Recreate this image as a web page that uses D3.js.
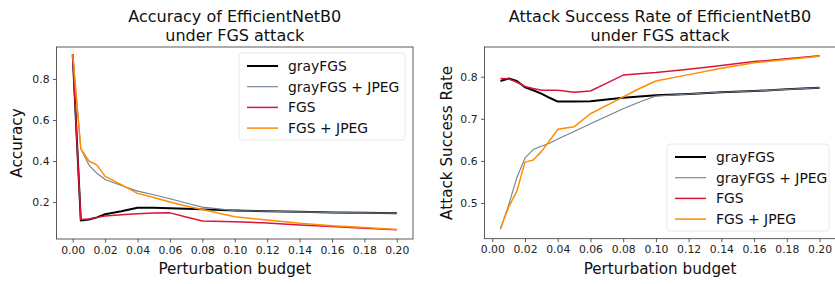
<!DOCTYPE html>
<html>
<head>
<meta charset="utf-8">
<script src="https://cdn.jsdelivr.net/npm/d3@7"></script>
<style>
  body { margin: 0; background: #fff; }
  svg { font-family: "DejaVu Sans", sans-serif; }
</style>
</head>
<body>
<div id="chart"></div>
<script>
// perturbation budgets
var accBudget = [0, 0.005, 0.01, 0.015, 0.02, 0.03, 0.04, 0.05, 0.06, 0.07, 0.08, 0.1, 0.12, 0.14, 0.16, 0.18, 0.2];
var asrBudget = [0.005, 0.01, 0.015, 0.02, 0.025, 0.03, 0.035, 0.04, 0.05, 0.06, 0.07, 0.08, 0.09, 0.1, 0.12, 0.14, 0.16, 0.18, 0.2];

// accuracy values
var accGrayFGS     = [0.92, 0.11, 0.115, 0.125, 0.14, 0.155, 0.172, 0.172, 0.17, 0.167, 0.164, 0.158, 0.155, 0.152, 0.149, 0.147, 0.145];
var accGrayFGSJpeg = [0.92, 0.46, 0.38, 0.34, 0.31, 0.28, 0.253, 0.235, 0.216, 0.195, 0.175, 0.158, 0.155, 0.152, 0.149, 0.147, 0.145];
var accFGS         = [0.92, 0.115, 0.117, 0.125, 0.132, 0.138, 0.143, 0.146, 0.147, 0.127, 0.107, 0.104, 0.098, 0.088, 0.08, 0.072, 0.065];
var accFGSJpeg     = [0.92, 0.46, 0.40, 0.38, 0.325, 0.285, 0.242, 0.222, 0.2, 0.18, 0.163, 0.128, 0.112, 0.096, 0.084, 0.075, 0.066];

// attack success rate values
var asrGrayFGS     = [0.79, 0.796, 0.79, 0.775, 0.768, 0.76, 0.75, 0.741, 0.741, 0.742, 0.746, 0.75, 0.753, 0.756, 0.759, 0.763, 0.766, 0.77, 0.774];
var asrGrayFGSJpeg = [0.437, 0.495, 0.56, 0.607, 0.627, 0.635, 0.642, 0.652, 0.67, 0.688, 0.706, 0.724, 0.74, 0.754, 0.759, 0.763, 0.766, 0.77, 0.774];
var asrFGS         = [0.796, 0.795, 0.787, 0.777, 0.772, 0.768, 0.768, 0.768, 0.763, 0.766, 0.785, 0.804, 0.807, 0.81, 0.818, 0.827, 0.836, 0.843, 0.85];
var asrFGSJpeg     = [0.44, 0.49, 0.528, 0.597, 0.602, 0.622, 0.648, 0.675, 0.681, 0.712, 0.732, 0.752, 0.772, 0.79, 0.805, 0.82, 0.833, 0.841, 0.849];

var seriesNames = ["grayFGS", "grayFGS + JPEG", "FGS", "FGS + JPEG"];
var xTicks = [0, 0.02, 0.04, 0.06, 0.08, 0.1, 0.12, 0.14, 0.16, 0.18, 0.2];
var accTicks = [0.2, 0.4, 0.6, 0.8];
var asrTicks = [0.5, 0.6, 0.7, 0.8];

var colors = ["#000000", "#708090", "#dc143c", "#ff8c00"];
var widths = [2, 1.1, 1.5, 1.5];

var W = 835, H = 284;

var svg = d3.select("#chart").append("svg")
    .attr("width", W)
    .attr("height", H);

function panel(cfg) {
    var x = d3.scaleLinear().domain(cfg.xDomain).range([cfg.left, cfg.right]);
    var y = d3.scaleLinear().domain(cfg.yDomain).range([cfg.bottom, cfg.top]);

    var clipId = "clip" + cfg.id;
    svg.append("clipPath").attr("id", clipId)
        .append("rect")
        .attr("x", cfg.left).attr("y", cfg.top)
        .attr("width", cfg.right - cfg.left)
        .attr("height", cfg.bottom - cfg.top);

    // x axis
    var gx = svg.append("g")
        .attr("transform", "translate(0," + cfg.bottom + ")")
        .style("font-size", "10.8px")
        .call(d3.axisBottom(x).tickValues(xTicks).tickFormat(d3.format(".2f")).tickSize(3.5).tickPadding(3.5));
    gx.select(".domain").remove();
    gx.selectAll("line").attr("stroke", "#333").attr("stroke-width", 0.8);
    gx.selectAll("text").attr("fill", "#222").style("font-family", "DejaVu Sans");

    // y axis
    var gy = svg.append("g")
        .attr("transform", "translate(" + cfg.left + ",0)")
        .style("font-size", "10.8px")
        .call(d3.axisLeft(y).tickValues(cfg.yTicks).tickFormat(d3.format(".1f")).tickSize(3.5).tickPadding(3.5));
    gy.select(".domain").remove();
    gy.selectAll("line").attr("stroke", "#333").attr("stroke-width", 0.8);
    gy.selectAll("text").attr("fill", "#222").style("font-family", "DejaVu Sans");

    // lines
    var line = d3.line()
        .x(function(d) { return x(d[0]); })
        .y(function(d) { return y(d[1]); });

    var g = svg.append("g").attr("clip-path", "url(#" + clipId + ")");
    cfg.series.forEach(function(vals, i) {
        g.append("path")
            .datum(vals.map(function(v, j) { return [cfg.budget[j], v]; }))
            .attr("d", line)
            .attr("fill", "none")
            .attr("stroke", colors[i])
            .attr("stroke-width", widths[i])
            .attr("stroke-linejoin", "round");
    });

    // frame
    svg.append("rect")
        .attr("x", cfg.left).attr("y", cfg.top)
        .attr("width", cfg.right - cfg.left)
        .attr("height", cfg.bottom - cfg.top)
        .attr("fill", "none")
        .attr("stroke", "#333")
        .attr("stroke-width", 0.8);

    // title
    var cx = (cfg.left + cfg.right) / 2;
    var title = svg.append("text")
        .attr("text-anchor", "middle")
        .style("font-size", "16px")
        .attr("fill", "#111");
    title.append("tspan").attr("x", cx).attr("y", 22).text(cfg.title[0]);
    title.append("tspan").attr("x", cx).attr("y", 40.5).text(cfg.title[1]);

    // axis labels
    svg.append("text")
        .attr("x", cx).attr("y", 274)
        .attr("text-anchor", "middle")
        .style("font-size", "15.2px")
        .attr("fill", "#111")
        .text("Perturbation budget");

    var ym = (cfg.top + cfg.bottom) / 2;
    svg.append("text")
        .attr("transform", "translate(" + cfg.yLabelX + "," + ym + ") rotate(-90)")
        .attr("text-anchor", "middle")
        .attr("dy", "0.35em")
        .style("font-size", "15.2px")
        .attr("fill", "#111")
        .text(cfg.yLabel);

    // legend
    var L = cfg.legend;
    svg.append("rect")
        .attr("x", L.box[0]).attr("y", L.box[1])
        .attr("width", L.box[2]).attr("height", L.box[3])
        .attr("rx", 3)
        .attr("fill", "#fff").attr("fill-opacity", 0.8)
        .attr("stroke", "#e2e2e2").attr("stroke-width", 0.8);
    seriesNames.forEach(function(name, i) {
        var yy = L.y0 + i * L.dy;
        svg.append("line")
            .attr("x1", L.x).attr("x2", L.x + 31)
            .attr("y1", yy).attr("y2", yy)
            .attr("stroke", colors[i])
            .attr("stroke-width", widths[i]);
        svg.append("text")
            .attr("x", L.x + 41).attr("y", yy)
            .attr("dy", "0.35em")
            .style("font-size", "13.9px")
            .attr("fill", "#111")
            .text(name);
    });
}

panel({
    id: "acc",
    left: 56.5, right: 413, top: 47, bottom: 239,
    xDomain: [-0.01, 0.21], yDomain: [0.0195, 0.956],
    yTicks: accTicks, budget: accBudget,
    series: [accGrayFGS, accGrayFGSJpeg, accFGS, accFGSJpeg],
    title: ["Accuracy of EfficientNetB0", "under FGS attack"],
    yLabel: "Accuracy", yLabelX: 17,
    legend: { x: 247, y0: 66, dy: 20.7, box: [239, 53, 166, 87] }
});

panel({
    id: "asr",
    left: 484.5, right: 835.5, top: 47, bottom: 238.7,
    xDomain: [-0.00475, 0.20975], yDomain: [0.415, 0.8707],
    yTicks: asrTicks, budget: asrBudget,
    series: [asrGrayFGS, asrGrayFGSJpeg, asrFGS, asrFGSJpeg],
    title: ["Attack Success Rate of EfficientNetB0", "under FGS attack"],
    yLabel: "Attack Success Rate", yLabelX: 447,
    legend: { x: 675, y0: 157, dy: 20.7, box: [667, 144, 162, 87] }
});
</script>
</body>
</html>
